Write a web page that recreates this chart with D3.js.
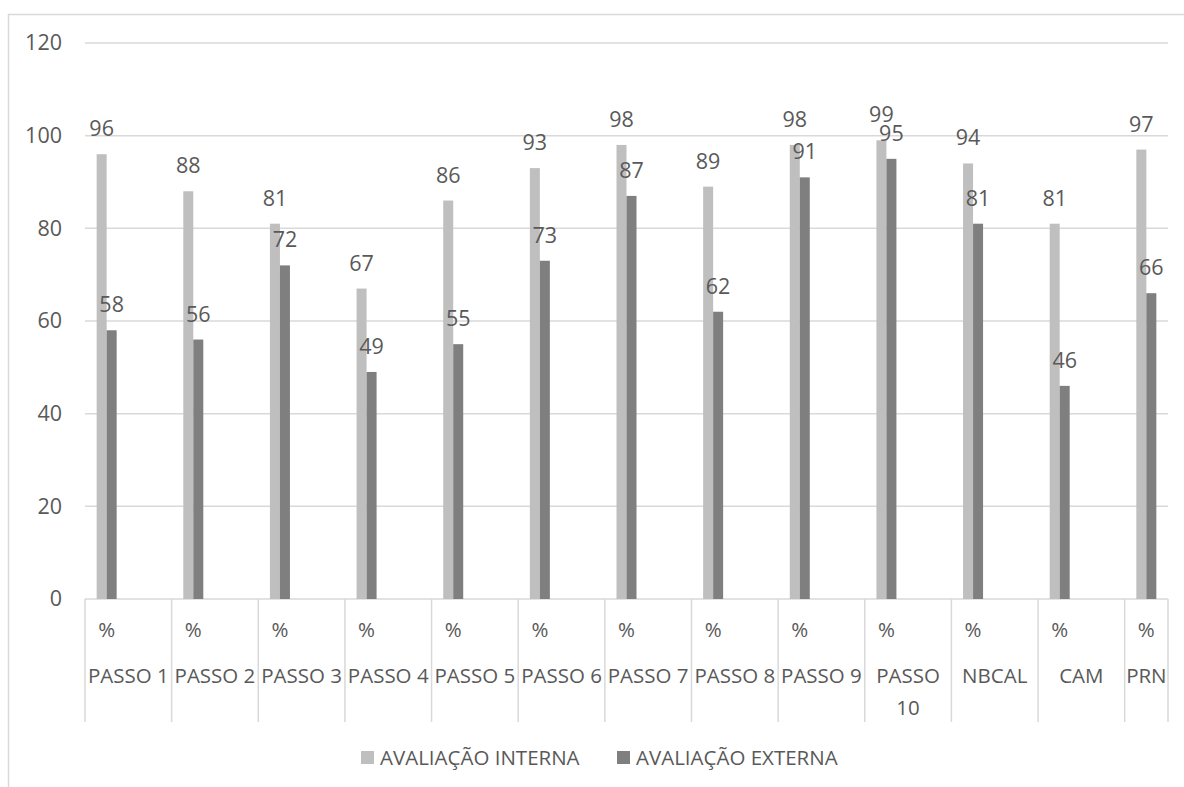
<!DOCTYPE html>
<html>
<head>
<meta charset="utf-8">
<script src="https://cdn.jsdelivr.net/npm/d3@7"></script>
<style>
  html, body { margin: 0; padding: 0; background: #ffffff; }
  svg { display: block; }
  text { font-family: "Open Sans", "Noto Sans", sans-serif; fill: #595959; }
</style>
</head>
<body>
<svg id="chart" width="1184" height="787"></svg>
<script>
// Categories (outer level) and the inner "%" sub-label
const categories = ["PASSO 1", "PASSO 2", "PASSO 3", "PASSO 4", "PASSO 5", "PASSO 6",
  "PASSO 7", "PASSO 8", "PASSO 9", "PASSO 10", "NBCAL", "CAM", "PRN"];
const subLabel = "%";

// Series
const seriesNames = ["AVALIAÇÃO INTERNA", "AVALIAÇÃO EXTERNA"];
const seriesColors = ["#bfbfbf", "#7f7f7f"];
const interna = [96, 88, 81, 67, 86, 93, 98, 89, 98, 99, 94, 81, 97];
const externa = [58, 56, 72, 49, 55, 73, 87, 62, 91, 95, 81, 46, 66];

// Value axis ticks
const yTicks = [0, 20, 40, 60, 80, 100, 120];

const svg = d3.select("#chart");
const fontSize = 20.5;
const numSize = 21.5;

// Chart area frame
svg.append("rect")
  .attr("x", 8.5).attr("y", 14.5)
  .attr("width", 1300).attr("height", 900)
  .attr("fill", "none").attr("stroke", "#d9d9d9").attr("stroke-width", 1.5);

const plot = { left: 85, right: 1168, top: 43, bottom: 599 };

// Each category holds two inner slots; the plot shows 25 slots in total
const slotCount = categories.length * 2 - 1;
const slots = d3.scaleBand()
  .domain(d3.range(slotCount))
  .range([plot.left, plot.right])
  .padding(0);
const slotW = slots.bandwidth();

// Position of the two series bars inside the first slot of a category
const seriesX = d3.scaleBand()
  .domain(seriesNames)
  .range([0, slotW])
  .paddingInner(0)
  .paddingOuter((slotW / 10 - 2) / 2);

const y = d3.scaleLinear().domain([0, 120]).range([plot.bottom, plot.top]);

// Gridlines
svg.append("g")
  .selectAll("line")
  .data(yTicks.filter(t => t > 0))
  .join("line")
  .attr("x1", plot.left).attr("x2", plot.right)
  .attr("y1", d => y(d)).attr("y2", d => y(d))
  .attr("stroke", "#d9d9d9").attr("stroke-width", 1.5);

// Value axis labels
const yAxis = d3.axisLeft(y).tickValues(yTicks).tickSize(0).tickPadding(0);
const yG = svg.append("g").attr("transform", `translate(62,0)`).call(yAxis);
yG.select(".domain").remove();
yG.attr("font-size", null).attr("font-family", null);
yG.selectAll("text")
  .attr("font-size", numSize)
  .attr("fill", "#595959");

// Category axis: baseline and cell separators
svg.append("line")
  .attr("x1", plot.left).attr("x2", plot.right)
  .attr("y1", plot.bottom).attr("y2", plot.bottom)
  .attr("stroke", "#d9d9d9").attr("stroke-width", 1.5);

const catStart = i => slots(i * 2);
const catEnd = i => Math.min(plot.right, slots(i * 2) + slotW * 2);
const separators = categories.map((c, i) => catStart(i)).concat([plot.right]);
svg.append("g")
  .selectAll("line")
  .data(separators)
  .join("line")
  .attr("x1", d => d).attr("x2", d => d)
  .attr("y1", plot.bottom).attr("y2", 722)
  .attr("stroke", "#d9d9d9").attr("stroke-width", 1.5);

// Inner "%" labels
svg.append("g")
  .selectAll("text")
  .data(categories)
  .join("text")
  .attr("x", (d, i) => catStart(i) + slotW / 2)
  .attr("y", 630)
  .attr("dy", "0.35em")
  .attr("text-anchor", "middle")
  .attr("font-size", fontSize)
  .text(subLabel);

// Outer category labels, wrapped when wider than the cell
const catG = svg.append("g");
categories.forEach((c, i) => {
  const cx = (catStart(i) + catEnd(i)) / 2;
  const w = catEnd(i) - catStart(i);
  const t = catG.append("text")
    .attr("x", cx).attr("y", 676).attr("dy", "0.35em")
    .attr("text-anchor", "middle").attr("font-size", fontSize)
    .text(c);
  if (t.node().getComputedTextLength() > w - 2) {
    const words = c.split(" ");
    t.text(null);
    words.forEach((wd, k) => {
      t.append("tspan").attr("x", cx).attr("y", 676 + k * 32).attr("dy", "0.35em").text(wd);
    });
  }
});

// Bars
const rows = categories.map((c, i) => ({ cat: c, i, values: [interna[i], externa[i]] }));
const barG = svg.append("g");
rows.forEach(r => {
  r.values.forEach((v, s) => {
    const x0 = catStart(r.i) + seriesX(seriesNames[s]);
    barG.append("rect")
      .attr("x", x0)
      .attr("y", y(v))
      .attr("width", seriesX.bandwidth())
      .attr("height", y(0) - y(v))
      .attr("fill", seriesColors[s]);
  });
});

// Data labels above each bar
const lblG = svg.append("g");
rows.forEach(r => {
  r.values.forEach((v, s) => {
    const cx = catStart(r.i) + seriesX(seriesNames[s]) + seriesX.bandwidth() / 2;
    lblG.append("text")
      .attr("x", cx)
      .attr("y", y(v) - 18)
      .attr("text-anchor", "middle")
      .attr("font-size", numSize)
      .attr("fill", "#404040")
      .text(v);
  });
});

// Legend
const legendItems = [
  { name: seriesNames[0], color: seriesColors[0], x: 361 },
  { name: seriesNames[1], color: seriesColors[1], x: 617 }
];
const lg = svg.append("g");
legendItems.forEach(it => {
  lg.append("rect").attr("x", it.x).attr("y", 751).attr("width", 13).attr("height", 13).attr("fill", it.color);
  lg.append("text").attr("x", it.x + 19).attr("y", 757.5).attr("dy", "0.35em")
    .attr("font-size", fontSize).text(it.name);
});
</script>
</body>
</html>
